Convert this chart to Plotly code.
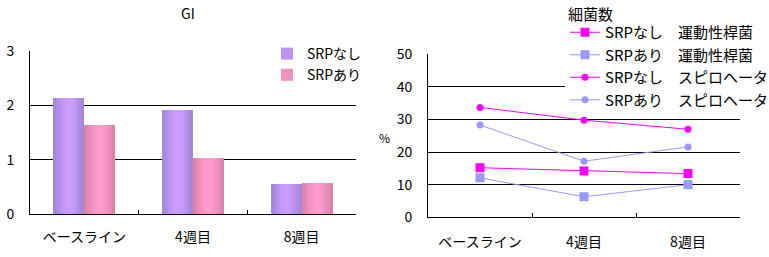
import plotly.graph_objects as go

# ---------------- data ----------------
categories = ["ベースライン", "4週目", "8週目"]
gi_srp_nashi = [2.14, 1.92, 0.55]
gi_srp_ari = [1.64, 1.03, 0.57]
gi_ticks = [0, 1, 2, 3]

motile_nashi = [15.2, 14.2, 13.4]
motile_ari = [12.1, 6.3, 10.0]
spiro_nashi = [33.7, 29.8, 27.0]
spiro_ari = [28.3, 17.2, 21.6]
pct_ticks = [0, 10, 20, 30, 40, 50]

left_names = ["SRPなし", "SRPあり"]
right_names = ["SRPなし　運動性桿菌", "SRPあり　運動性桿菌",
               "SRPなし　スピロヘータ", "SRPあり　スピロヘータ"]

# ---------------- styles ----------------
W, H = 769, 257
FONT = "Noto Sans CJK JP, Noto Sans, sans-serif"
BAR_W = 0.285
purple_layers = ["#A686D6", "#B08DE4", "#BB94F1", "#C599FB", "#CC9CFF"]
pink_layers = ["#DA84AA", "#E68BB6", "#F191C1", "#FA97C9", "#FF9ACC"]
fracs = [1.0, 0.8, 0.6, 0.4, 0.2]

fig = go.Figure()


def add_grad_bars(vals, colors, center, name):
    for i, (f, c) in enumerate(zip(fracs, colors)):
        w = BAR_W * f
        fig.add_trace(go.Bar(
            x=categories, y=vals, width=[w] * len(vals),
            offset=[center - w / 2] * len(vals),
            marker=dict(color=c, line=dict(width=0)),
            name=name, showlegend=(i == 2), legendgroup=name,
            legend="legend", xaxis="x", yaxis="y", hoverinfo="skip"))


add_grad_bars(gi_srp_nashi, purple_layers, -BAR_W / 2, left_names[0])
add_grad_bars(gi_srp_ari, pink_layers, BAR_W / 2, left_names[1])

MAG = "#FF00FF"
PERI = "#9999FF"
line_series = [
    (motile_nashi, MAG, "square", 9),
    (motile_ari, PERI, "square", 9),
    (spiro_nashi, MAG, "circle", 7),
    (spiro_ari, PERI, "circle", 7),
]
for (vals, col, sym, sz), nm in zip(line_series, right_names):
    fig.add_trace(go.Scatter(
        x=categories, y=vals, mode="lines+markers", name=nm,
        line=dict(color=col, width=1),
        marker=dict(color=col, symbol=sym, size=sz, line=dict(width=0)),
        legend="legend2", xaxis="x2", yaxis="y2"))

axis_common = dict(showline=True, linecolor="black", linewidth=1, mirror=False,
                   automargin=False,
                   tickfont=dict(family=FONT, size=14, color="black"))

fig.update_layout(
    width=W, height=H, margin=dict(l=0, r=0, t=0, b=0, autoexpand=False),
    paper_bgcolor="white", plot_bgcolor="white",
    barmode="overlay", bargap=0,
    font=dict(family=FONT, size=14, color="black"),
    xaxis=dict(domain=[30 / W, 356 / W], anchor="y", type="category",
               range=[-0.5, 2.5], ticks="inside", tickson="boundaries",
               ticklen=4, tickcolor="black", showgrid=False,
               ticklabelstandoff=10, **axis_common),
    yaxis=dict(domain=[1 - 214 / H, 1 - 51.3 / H], anchor="x", range=[0, 3],
               tickvals=gi_ticks, showgrid=True, gridcolor="black",
               gridwidth=1, zeroline=False, ticks="",
               ticklabelstandoff=12, **axis_common),
    xaxis2=dict(domain=[428 / W, 740 / W], anchor="y2", type="category",
                range=[-0.5, 2.5], ticks="inside", tickson="boundaries",
                ticklen=4, tickcolor="black", showgrid=False,
                ticklabelstandoff=12, **axis_common),
    yaxis2=dict(domain=[1 - 217.3 / H, 1 - 54.3 / H], anchor="x2",
                range=[0, 50], tickvals=pct_ticks, showgrid=True,
                gridcolor="black", gridwidth=1, zeroline=False, ticks="",
                ticklabelstandoff=12, **axis_common),
    legend=dict(x=267 / W, y=1 - 38 / H, xanchor="left", yanchor="top",
                bgcolor="white", borderwidth=0,
                font=dict(family=FONT, size=14, color="black"),
                tracegroupgap=0, itemclick=False),
    legend2=dict(x=565 / W, y=1 - 16 / H, xanchor="left", yanchor="top",
                 bgcolor="white", borderwidth=0,
                 font=dict(family=FONT, size=15, color="black"),
                 itemclick=False),
    annotations=[
        dict(text="GI", x=188 / W, y=1 - 13 / H, xref="paper", yref="paper",
             xanchor="center", yanchor="middle", showarrow=False,
             font=dict(family=FONT, size=14, color="black")),
        dict(text="細菌数", x=590 / W, y=1 - 13 / H, xref="paper",
             yref="paper", xanchor="center", yanchor="middle",
             showarrow=False,
             font=dict(family=FONT, size=15, color="black")),
        dict(text="%", x=384 / W, y=1 - 137 / H, xref="paper", yref="paper",
             xanchor="center", yanchor="middle", showarrow=False,
             font=dict(family=FONT, size=12, color="black")),
    ],
)

fig.write_html("out.html")
